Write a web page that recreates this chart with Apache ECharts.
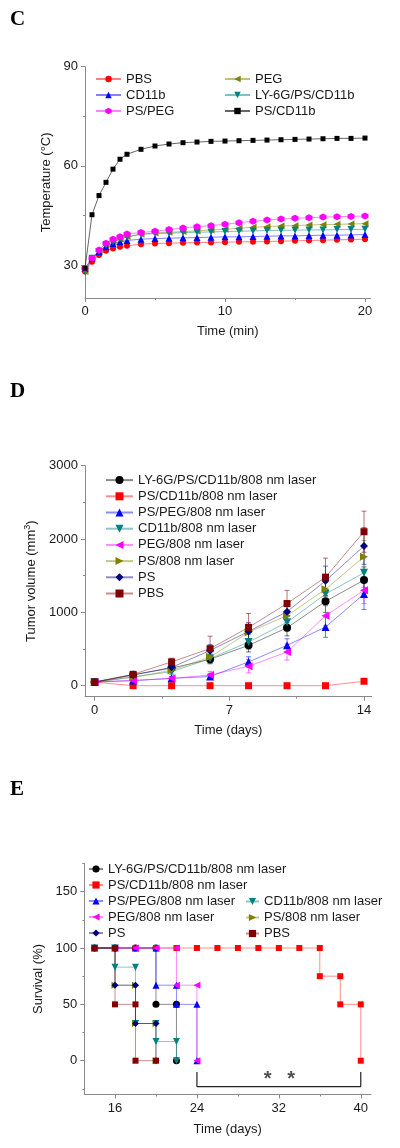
<!DOCTYPE html>
<html><head><meta charset="utf-8">
<script src="https://cdn.jsdelivr.net/npm/echarts@6/dist/echarts.min.js"></script>
<style>html,body{margin:0;padding:0;background:#fff}#c{width:400px;height:1148px}</style>
</head><body><div id="c"></div>
<script>
// ---------- Panel C: temperature vs time ----------
const C_TIME = [0,0.5,1,1.5,2,2.5,3,4,5,6,7,8,9,10,11,12,13,14,15,16,17,18,19,20];
const C_PBS    = [28,31,33,34.3,35,35.5,35.8,36.3,36.5,36.6,36.7,36.8,36.8,36.9,37,37,37.1,37.2,37.3,37.4,37.5,37.6,37.7,37.8];
const C_PEG    = [28,32,34,36,37,37.8,38.6,39.3,39.7,39.9,40.1,40.3,40.6,40.8,41.1,41.4,41.6,41.8,41.9,42.1,42.2,42.3,42.4,42.5];
const C_CD11B  = [29,32,34,35.5,36.5,37,37.4,37.8,38,38.1,38.2,38.3,38.4,38.5,38.5,38.6,38.7,38.8,38.8,38.9,39,39,39.1,39.2];
const C_LY     = [28,32,34,36,37,37.8,38.4,39.3,39.5,39.6,39.8,39.9,40,40.1,40.2,40.3,40.4,40.5,40.5,40.6,40.6,40.7,40.7,40.8];
const C_PSPEG  = [29,32,34.5,36.6,37.8,38.5,39.4,39.8,40.2,40.7,41.2,41.6,41.9,42.3,42.8,43.2,43.6,43.9,44.1,44.3,44.5,44.6,44.7,44.8];
const C_PSCD   = [29,45.2,51,55,59,62,63.5,65,66,66.6,67,67.2,67.4,67.5,67.6,67.7,67.8,67.9,68,68.1,68.2,68.3,68.3,68.4];
const C_X_TICKS = [0,10,20], C_X_MINOR = [5,15];
const C_Y_TICKS = [30,60,90], C_Y_MINOR = [45,75];

// ---------- Panel D: tumour volume ----------
const D_DAYS = [0,2,4,6,8,10,12,14];
const D_LY     = [50,150,240,360,550,790,1150,1440];
const D_PSCD   = [50,0,0,0,0,0,0,60];
const D_PSPEG  = [50,70,100,125,325,550,800,1250];
const D_CD11B  = [50,120,190,370,595,865,1250,1540];
const D_PEG    = [50,70,100,145,265,460,955,1300];
const D_PS808  = [50,115,210,390,730,955,1315,1760];
const D_PS     = [50,145,250,480,740,1010,1430,1905];
const D_PBS    = [50,155,325,505,795,1120,1480,2100];
const D_ERR_LY    = [10,20,40,60,90,110,150,180];
const D_ERR_PSCD  = [5,5,5,5,5,5,5,20];
const D_ERR_PSPEG = [10,15,25,40,70,90,140,210];
const D_ERR_CD11B = [10,20,40,70,100,120,160,200];
const D_ERR_PEG   = [10,15,25,50,90,110,140,180];
const D_ERR_PS808 = [10,20,40,70,110,130,170,220];
const D_ERR_PS    = [10,20,40,80,120,150,200,250];
const D_ERR_PBS   = [10,25,50,170,190,180,260,280];
const D_X_TICKS = [0,7,14], D_X_MINOR = [3.5,10.5];
const D_Y_TICKS = [0,1000,2000,3000], D_Y_MINOR = [500,1500,2500];

// ---------- Panel E: survival ----------
const E_LY    = [[14,100],[16,100],[18,100],[20,100],[20,50],[22,50],[22,0]];
const E_PSCD  = [[14,100],[16,100],[18,100],[20,100],[22,100],[24,100],[26,100],[28,100],[30,100],[32,100],[34,100],[36,100],[36,75],[38,75],[38,50],[40,50],[40,0]];
const E_PSPEG = [[14,100],[16,100],[18,100],[20,100],[20,67],[22,67],[22,50],[24,50],[24,0]];
const E_CD11B = [[14,100],[16,100],[16,83],[18,83],[18,33],[20,33],[20,17],[22,17],[22,0]];
const E_PEG   = [[14,100],[16,100],[18,100],[20,100],[22,100],[22,67],[24,67],[24,0]];
const E_PS808 = [[14,100],[16,100],[16,67],[18,67],[18,33],[20,33],[20,0]];
const E_PS    = [[14,100],[16,100],[16,67],[18,67],[18,33],[20,33],[20,0]];
const E_PBS   = [[14,100],[16,100],[16,50],[18,50],[18,0],[20,0]];
const E_BRACKET = [[24,-10],[24,-23],[40,-23],[40,-10]];
const E_STARS = [[30.9,-17],[33.2,-17]];
const E_X_TICKS = [16,24,32,40], E_X_MINOR = [20,28,36];
const E_Y_TICKS = [0,50,100,150], E_Y_MINOR = [-25,25,75,125,175];

const FONT = '"Liberation Sans", Arial, sans-serif';
const TXT = '#1a1a1a';
const AX = '#8a8a8a';

function axes(kind, grid, min, max, major, minor, name, gap, nameExtra) {
  const main = {
    type: 'value', gridIndex: grid, min: min, max: max,
    position: kind === 'x' ? 'bottom' : 'left',
    axisLine: { show: true, onZero: false, lineStyle: { color: AX, width: 1 } },
    axisTick: { show: true, customValues: major, length: 4, inside: false, lineStyle: { color: AX } },
    axisLabel: { customValues: major, fontSize: 13, color: TXT, fontFamily: FONT, margin: 7,
                 formatter: v => String(v) },
    splitLine: { show: false },
    name: name, nameLocation: 'middle', nameGap: gap,
    nameTextStyle: Object.assign({ fontSize: 13, color: TXT, fontFamily: FONT }, nameExtra || {})
  };
  if (kind === 'y') main.nameRotate = 90;
  const mn = {
    type: 'value', gridIndex: grid, min: min, max: max,
    position: kind === 'x' ? 'bottom' : 'left', offset: 0,
    axisLine: { show: false, onZero: false },
    axisTick: { show: true, customValues: minor, length: 2, lineStyle: { color: AX } },
    axisLabel: { show: false },
    splitLine: { show: false }
  };
  return [main, mn];
}

const xAxes = [].concat(
  axes('x', 0, 0, 20.4, C_X_TICKS, C_X_MINOR, 'Time (min)', 27),
  axes('x', 1, -0.5, 14.4, D_X_TICKS, D_X_MINOR, 'Time (days)', 27),
  axes('x', 2, 13, 41, E_X_TICKS, E_X_MINOR, 'Time (days)', 28)
);
const yAxes = [].concat(
  axes('y', 0, 20, 90, C_Y_TICKS, C_Y_MINOR, 'Temperature (°C)', 31),
  axes('y', 1, -150, 3000, D_Y_TICKS, D_Y_MINOR, 'Tumor volume (mm{sup|3})', 38,
       { rich: { sup: { fontSize: 9, verticalAlign: 'top', color: TXT, fontFamily: FONT, padding: [0,0,8,0] } } }),
  axes('y', 2, -30, 175, E_Y_TICKS, E_Y_MINOR, 'Survival (%)', 35)
);

const UP = 'triangle';
function sym(kind) {
  switch (kind) {
    case 'down': return { symbol: 'triangle', symbolRotate: 180 };
    case 'left': return { symbol: 'triangle', symbolRotate: 90 };
    case 'right': return { symbol: 'triangle', symbolRotate: -90 };
    case 'hex': return { symbol: 'path://M5,0 L9.33,2.5 L9.33,7.5 L5,10 L0.67,7.5 L0.67,2.5 Z', symbolRotate: 0 };
    default: return { symbol: kind, symbolRotate: 0 };
  }
}

function line(name, grid, data, color, kind, size, lineOpacity) {
  const s = sym(kind);
  return {
    type: 'line', name: name, xAxisIndex: grid * 2, yAxisIndex: grid * 2,
    data: data, symbol: s.symbol, symbolRotate: s.symbolRotate, symbolSize: size,
    showAllSymbol: true, animation: false, z: 3,
    lineStyle: { color: color, width: 1, opacity: lineOpacity },
    itemStyle: { color: color, borderWidth: 0 }
  };
}
function zip(xs, ys) { return xs.map((x, i) => [x, ys[i]]); }
function errSeries(grid, xs, ys, es, color) {
  return {
    type: 'custom', xAxisIndex: grid * 2, yAxisIndex: grid * 2, animation: false, z: 2,
    data: xs.map((x, i) => [x, ys[i], es[i]]),
    renderItem: function (params, api) {
      const x = api.value(0), y = api.value(1), e = api.value(2);
      const t = api.coord([x, y + e]), b = api.coord([x, y - e]);
      const w = 2.5, st = { stroke: color, lineWidth: 1, opacity: 0.55 };
      return { type: 'group', children: [
        { type: 'line', shape: { x1: t[0], y1: t[1], x2: b[0], y2: b[1] }, style: st },
        { type: 'line', shape: { x1: t[0] - w, y1: t[1], x2: t[0] + w, y2: t[1] }, style: st },
        { type: 'line', shape: { x1: b[0] - w, y1: b[1], x2: b[0] + w, y2: b[1] }, style: st }
      ]};
    }
  };
}

const series = [];
// C
series.push(line('C_PBS', 0, zip(C_TIME, C_PBS), '#ff0000', 'circle', 6, 0.5));
series.push(line('C_PEG', 0, zip(C_TIME, C_PEG), '#808000', 'left', 7, 0.5));
series.push(line('C_CD11b', 0, zip(C_TIME, C_CD11B), '#0000ff', UP, 7, 0.5));
series.push(line('C_LY-6G/PS/CD11b', 0, zip(C_TIME, C_LY), '#008080', 'down', 7, 0.5));
series.push(line('C_PS/PEG', 0, zip(C_TIME, C_PSPEG), '#ff00ff', 'hex', 7, 0.5));
series.push(line('C_PS/CD11b', 0, zip(C_TIME, C_PSCD), '#000000', 'rect', 5, 0.6));

// D
const D_SER = [
  ['D_LY-6G/PS/CD11b/808 nm laser', D_LY, D_ERR_LY, '#000000', 'circle'],
  ['D_PS/CD11b/808 nm laser', D_PSCD, D_ERR_PSCD, '#ff0000', 'rect'],
  ['D_PS/PEG/808 nm laser', D_PSPEG, D_ERR_PSPEG, '#0000ff', UP],
  ['D_CD11b/808 nm laser', D_CD11B, D_ERR_CD11B, '#008080', 'down'],
  ['D_PEG/808 nm laser', D_PEG, D_ERR_PEG, '#ff00ff', 'left'],
  ['D_PS/808 nm laser', D_PS808, D_ERR_PS808, '#808000', 'right'],
  ['D_PS', D_PS, D_ERR_PS, '#000080', 'diamond'],
  ['D_PBS', D_PBS, D_ERR_PBS, '#800000', 'rect']
];
D_SER.forEach(d => series.push(errSeries(1, D_DAYS, d[1], d[2], d[3])));
D_SER.forEach(d => series.push(line(d[0], 1, zip(D_DAYS, d[1]), d[3], d[4], d[4] === 'rect' ? 7 : 8, 0.45)));

// E
const E_SER = [
  ['E_LY-6G/PS/CD11b/808 nm laser', E_LY, '#000000', 'circle'],
  ['E_PS/CD11b/808 nm laser', E_PSCD, '#ff0000', 'rect'],
  ['E_PS/PEG/808 nm laser', E_PSPEG, '#0000ff', UP],
  ['E_CD11b/808 nm laser', E_CD11B, '#008080', 'down'],
  ['E_PEG/808 nm laser', E_PEG, '#ff00ff', 'left'],
  ['E_PS/808 nm laser', E_PS808, '#808000', 'right'],
  ['E_PS', E_PS, '#000080', 'diamond'],
  ['E_PBS', E_PBS, '#800000', 'rect']
];
E_SER.forEach(d => series.push(line(d[0], 2, d[1], d[2], d[3], d[3] === 'rect' ? 6 : 7, 0.45)));
series.push({ type: 'line', xAxisIndex: 4, yAxisIndex: 4, data: E_BRACKET, symbol: 'none', animation: false,
  lineStyle: { color: '#222', width: 1.2 }, silent: true });
series.push({ type: 'scatter', xAxisIndex: 4, yAxisIndex: 4, data: E_STARS, symbolSize: 0, animation: false, silent: true,
  label: { show: true, position: 'inside', formatter: '*', fontSize: 20, fontWeight: 'bold', color: '#222', fontFamily: FONT } });

function legend(left, top, names, itemW, itemH) {
  return {
    orient: 'vertical', left: left, top: top, data: names, itemWidth: itemW, itemHeight: itemH,
    itemGap: 0, padding: 0, selectedMode: false,
    formatter: n => n.slice(2),
    textStyle: { fontSize: 13, color: TXT, fontFamily: FONT, lineHeight: 16, padding: [0, 0, 0, 0] }
  };
}
const legends = [
  legend(95, 71, ['C_PBS', 'C_CD11b', 'C_PS/PEG'], 25, 8),
  legend(224, 71, ['C_PEG', 'C_LY-6G/PS/CD11b', 'C_PS/CD11b'], 25, 8),
  Object.assign(legend(105, 472, D_SER.map(d => d[0]), 27, 10), { textStyle: { fontSize: 13, color: TXT, fontFamily: FONT, lineHeight: 16.2 } }),
  legend(88, 861, ['E_LY-6G/PS/CD11b/808 nm laser', 'E_PS/CD11b/808 nm laser', 'E_PS/PEG/808 nm laser', 'E_PEG/808 nm laser', 'E_PS'], 14, 9),
  legend(245, 893.5, ['E_CD11b/808 nm laser', 'E_PS/808 nm laser', 'E_PBS'], 13, 9)
];

const option = {
  backgroundColor: '#ffffff',
  animation: false,
  grid: [
    { left: 85, top: 66.7, width: 285.6, height: 231.3 },
    { left: 85, top: 465.7, width: 286.7, height: 231 },
    { left: 84.3, top: 863.5, width: 286.7, height: 231 }
  ],
  xAxis: xAxes,
  yAxis: yAxes,
  legend: legends,
  series: series,
  graphic: [
    { type: 'text', left: 10, top: 9, style: { text: 'C', font: 'bold 21px "Liberation Serif", serif', fill: '#000' } },
    { type: 'text', left: 10, top: 381, style: { text: 'D', font: 'bold 21px "Liberation Serif", serif', fill: '#000' } },
    { type: 'text', left: 10, top: 779, style: { text: 'E', font: 'bold 21px "Liberation Serif", serif', fill: '#000' } }
  ]
};
const chart = echarts.init(document.getElementById('c'), null, { renderer: 'canvas' });
chart.setOption(option);
</script>
</body></html>
